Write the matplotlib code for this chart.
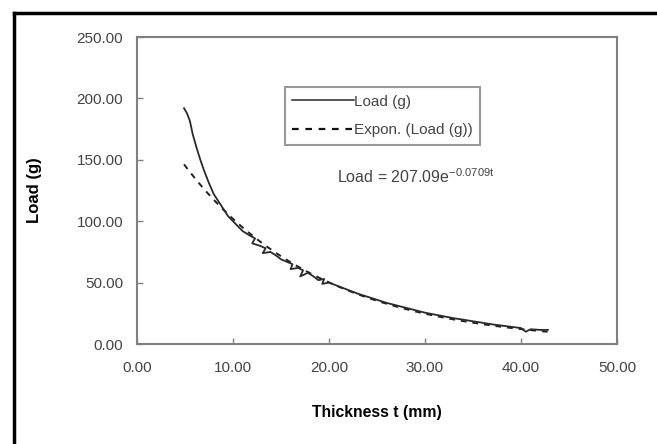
import matplotlib
matplotlib.use("Agg")
import matplotlib.pyplot as plt
import numpy as np
from matplotlib.lines import Line2D

plt.rcParams['font.family'] = ['Liberation Sans', 'DejaVu Sans']
plt.rcParams['mathtext.fontset'] = 'custom'
plt.rcParams['mathtext.rm'] = 'Liberation Sans'
plt.rcParams['mathtext.it'] = 'Liberation Sans'

# Measured load versus thickness
thickness = [4.9, 5.2, 5.5, 5.8, 6.2, 6.6, 7.0, 7.5, 8.0, 8.5, 9.0, 9.5, 10.0,
             10.5, 11.0, 11.6, 12.3, 12.0, 12.8, 13.4, 13.1, 13.9, 14.5, 15.0,
             15.6, 16.2, 16.0, 16.8, 17.3, 17.0, 17.8, 18.4, 18.9, 19.5, 19.3,
             20.0, 21.0, 22.0, 23.0, 24.0, 25.0, 26.0, 27.0, 28.0, 29.0, 30.0,
             31.0, 32.0, 33.0, 34.0, 35.0, 36.0, 37.0, 38.0, 39.0, 40.0, 40.5,
             41.0, 42.0, 42.8]
load = [192, 188, 182, 171, 160, 150, 141, 131, 122, 116, 110, 104, 100,
        96, 92, 89, 86, 82, 80, 78, 74, 75, 72, 69,
        67, 65, 61, 62, 60, 55, 58, 55, 52, 53, 49,
        50, 47, 44, 41, 38.5, 36, 33.5, 31.5, 29.5, 27.5, 25.5,
        24, 22.5, 21, 19.8, 18.5, 17.3, 16, 15, 14, 13, 10,
        12, 11.5, 11.5]

# Exponential trendline coefficients
trend_a = 207.09
trend_b = -0.0709

xticks = [0, 10, 20, 30, 40, 50]
yticks = [0, 50, 100, 150, 200, 250]

fig = plt.figure(figsize=(6.57, 4.44), dpi=100)
ax = fig.add_axes([0.2085, 0.2252, 0.7306, 0.6914])

t_fit = np.linspace(min(thickness), max(thickness), 200)
ax.plot(t_fit, trend_a * np.exp(trend_b * t_fit), color='#222222', lw=1.4,
        linestyle=(0, (3, 3)), zorder=2)
ax.plot(thickness, load, color='#2a2a2a', lw=1.3, zorder=3)

ax.set_xlim(0, 50)
ax.set_ylim(0, 250)
ax.set_xticks(xticks)
ax.set_yticks(yticks)
ax.set_xticklabels([f"{v:.2f}" for v in xticks])
ax.set_yticklabels([f"{v:.2f}" for v in yticks])
ax.tick_params(direction='in', length=4, width=1, color='#808080',
               labelsize=11, labelcolor='#444444')
ax.tick_params(axis='y', pad=10)
ax.tick_params(axis='x', pad=12)
for s in ax.spines.values():
    s.set_color('#808080')
    s.set_linewidth(1.5)

ax.set_xlabel("Thickness t (mm)", fontsize=11.3, fontweight='bold', labelpad=22)
ax.set_ylabel("Load (g)", fontsize=12, fontweight='bold', labelpad=25)

handles = [Line2D([], [], color='#2a2a2a', lw=1.1),
           Line2D([], [], color='#111111', lw=1.6, linestyle=(0, (3, 3)))]
leg = ax.legend(handles, ["Load (g)", "Expon. (Load (g))"],
                loc='upper left', bbox_to_anchor=(0.308, 0.837), fontsize=11,
                frameon=True, fancybox=False, edgecolor='#808080',
                handlelength=4.0, handletextpad=0.0, borderpad=0.5,
                labelspacing=0.95, borderaxespad=0)
leg.get_frame().set_linewidth(1.5)
for txt in leg.get_texts():
    txt.set_color('#444444')

ax.text(0.417, 0.546, r"Load = 207.09e$^{\mathrm{-0.0709t}}$", transform=ax.transAxes,
        fontsize=11.5, color='#444444', ha='left', va='center')

# outer chart frame
fig.add_artist(Line2D([14 / 657, 1], [1 - 13 / 444, 1 - 13 / 444],
                      transform=fig.transFigure, color='black', lw=2.5))
fig.add_artist(Line2D([14 / 657, 14 / 657], [0, 1 - 13 / 444],
                      transform=fig.transFigure, color='black', lw=2.5))

fig.savefig("out.png", dpi=100)
